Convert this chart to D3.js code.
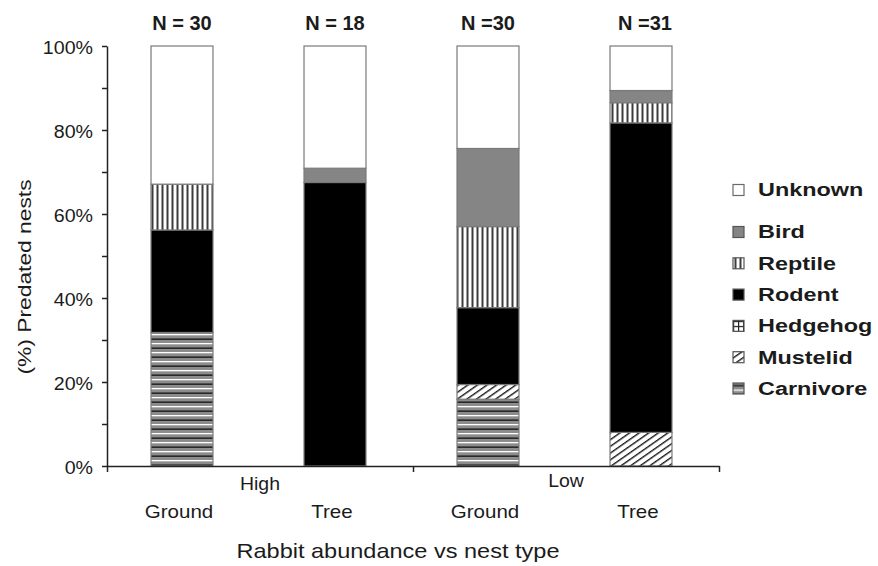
<!DOCTYPE html>
<html>
<head>
<meta charset="utf-8">
<script src="https://cdn.jsdelivr.net/npm/d3@7"></script>
<style>
  html, body { margin: 0; padding: 0; background: #fff; }
  svg { display: block; font-family: "Liberation Sans", Arial, sans-serif; }
</style>
</head>
<body>
<svg id="chart" width="878" height="566"></svg>
<script>
// Nest predation by predator type, split by rabbit abundance and nest type
const categories = ["Ground", "Tree", "Ground", "Tree"];
const groups = ["High", "Low"];
const sampleSizes = [30, 18, 30, 31];
const predators = ["Carnivore", "Mustelid", "Hedgehog", "Rodent", "Reptile", "Bird", "Unknown"];
const carnivore = [31.8, 0, 15.9, 0];
const mustelid  = [0, 0, 3.5, 8.0];
const hedgehog  = [0, 0, 0, 0];
const rodent    = [24.4, 67.5, 18.3, 73.7];
const reptile   = [10.9, 0, 19.3, 4.8];
const bird      = [0, 3.4, 18.6, 2.9];
const unknown   = [32.9, 29.1, 24.4, 10.6];
const yTicks = [0, 20, 40, 60, 80, 100];
const xTitle = "Rabbit abundance vs nest type";
const yTitle = "(%) Predated nests";

const seriesValues = {
  Carnivore: carnivore, Mustelid: mustelid, Hedgehog: hedgehog, Rodent: rodent,
  Reptile: reptile, Bird: bird, Unknown: unknown
};
const rows = categories.map((c, i) => {
  const r = { idx: i };
  predators.forEach(p => { r[p] = seriesValues[p][i]; });
  return r;
});

const svg = d3.select("#chart");
const textColor = "#1b1b1b";
const outline = "#7a7a7a";

// Fill patterns for the predator classes
const defs = svg.append("defs");
function pattern(id, w, h, transform) {
  const p = defs.append("pattern").attr("id", id)
    .attr("patternUnits", "userSpaceOnUse").attr("width", w).attr("height", h);
  if (transform) p.attr("patternTransform", transform);
  return p;
}
// horizontal stripes
let p = pattern("pCarnivore", 9, 9);
p.append("rect").attr("width", 9).attr("height", 9).attr("fill", "#8c8c8c");
p.append("rect").attr("y", 1).attr("width", 9).attr("height", 1.3).attr("fill", "#ffffff");
p.append("rect").attr("y", 5.5).attr("width", 9).attr("height", 1.3).attr("fill", "#111111");
// diagonal hatch
p = pattern("pMustelid", 5.5, 5.5, "rotate(-35)");
p.append("rect").attr("width", 5.5).attr("height", 5.5).attr("fill", "#ffffff");
p.append("rect").attr("y", 0).attr("width", 5.5).attr("height", 1.4).attr("fill", "#1a1a1a");
// grid
p = pattern("pHedgehog", 5, 5);
p.append("rect").attr("width", 5).attr("height", 5).attr("fill", "#ffffff");
p.append("rect").attr("x", 0).attr("width", 1.2).attr("height", 5).attr("fill", "#222");
p.append("rect").attr("y", 0).attr("width", 5).attr("height", 1.2).attr("fill", "#222");
// vertical stripes
p = pattern("pReptile", 5, 5);
p.append("rect").attr("width", 5).attr("height", 5).attr("fill", "#ffffff");
p.append("rect").attr("x", 1.5).attr("width", 2).attr("height", 5).attr("fill", "#3c3c3c");

const fills = {
  Carnivore: "url(#pCarnivore)",
  Mustelid: "url(#pMustelid)",
  Hedgehog: "url(#pHedgehog)",
  Rodent: "#000000",
  Reptile: "url(#pReptile)",
  Bird: "#858585",
  Unknown: "#ffffff"
};

// Scales
const plotLeft = 107, plotRight = 719, plotTop = 46, plotBottom = 466;
const x = d3.scaleBand().domain(d3.range(categories.length))
  .range([plotLeft - 1.5, plotRight - 1.5]).paddingInner(0.595).paddingOuter(0.2975);
const y = d3.scaleLinear().domain([0, 100]).range([plotBottom, plotTop]);
const g = d3.scaleLinear().domain([0, groups.length]).range([plotLeft, plotRight]);

// Stretch text horizontally to a given factor of its natural width
function stretch(sel, k) {
  sel.each(function () {
    const w = this.getComputedTextLength();
    d3.select(this).attr("textLength", w * k).attr("lengthAdjust", "spacingAndGlyphs");
  });
}

// Stacked bars
const stacked = d3.stack().keys(predators)(rows);
svg.append("g").selectAll("g").data(stacked).join("g")
  .attr("fill", d => fills[d.key])
  .selectAll("rect").data(d => d.filter(s => s[1] - s[0] > 0)).join("rect")
  .attr("x", d => x(d.data.idx))
  .attr("width", x.bandwidth())
  .attr("y", d => y(d[1]))
  .attr("height", d => y(d[0]) - y(d[1]))
  .attr("stroke", outline)
  .attr("stroke-width", 1.2);

// Y axis
const yAxis = svg.append("g").attr("transform", `translate(${plotLeft},0)`)
  .call(d3.axisLeft(y).tickValues(d3.range(0, 101, 10))
    .tickFormat(d => yTicks.includes(d) ? d + "%" : "")
    .tickSize(5).tickSizeOuter(0).tickPadding(9));
yAxis.select(".domain").attr("stroke", "#222").attr("stroke-width", 1.5);
yAxis.selectAll(".tick line").attr("stroke", "#222").attr("stroke-width", 1.5);
yAxis.selectAll(".tick text").attr("font-size", 18).attr("fill", textColor)
  .attr("font-family", "'Liberation Sans', Arial, sans-serif").attr("dy", "0.42em")
  .call(stretch, 1.09);

// X axis with group boundaries
const xAxis = svg.append("g").attr("transform", `translate(0,${plotBottom})`)
  .call(d3.axisBottom(g).tickValues(d3.range(groups.length + 1)).tickFormat("")
    .tickSize(6).tickSizeOuter(0));
xAxis.select(".domain").attr("stroke", "#222").attr("stroke-width", 1.5);
xAxis.selectAll(".tick line").attr("stroke", "#222").attr("stroke-width", 1.5);

// Category labels
svg.append("g").selectAll("text").data(categories).join("text")
  .attr("x", (d, i) => x(i) + x.bandwidth() / 2 - 3)
  .attr("y", 518)
  .attr("text-anchor", "middle")
  .attr("font-size", 19).attr("fill", textColor)
  .text(d => d)
  .call(stretch, 1.08);

// Group labels
svg.append("g").selectAll("text").data(groups).join("text")
  .attr("x", (d, i) => (g(i) + g(i + 1)) / 2)
  .attr("y", (d, i) => i === 0 ? 490 : 487)
  .attr("text-anchor", "middle")
  .attr("font-size", 18).attr("fill", textColor)
  .text(d => d)
  .call(stretch, 1.08);

// Sample sizes
svg.append("g").selectAll("text").data(sampleSizes).join("text")
  .attr("x", (d, i) => x(i) + x.bandwidth() / 2 + (i === 3 ? 4 : 0))
  .attr("y", 30)
  .attr("text-anchor", "middle")
  .attr("font-size", 20).attr("font-weight", "bold").attr("fill", textColor)
  .text((d, i) => (i === 3 || i === 2 ? "N =" : "N = ") + d);

// Axis titles
svg.append("text")
  .attr("x", (plotLeft + plotRight) / 2 - 15).attr("y", 558)
  .attr("text-anchor", "middle").attr("font-size", 21).attr("fill", textColor)
  .text(xTitle).call(stretch, 1.12);
svg.append("text")
  .attr("transform", "translate(31,277) rotate(-90)")
  .attr("text-anchor", "middle").attr("font-size", 19).attr("fill", textColor)
  .text(yTitle).call(stretch, 1.2);

// Legend (top entry first)
const legendOrder = predators.slice().reverse();
const legend = svg.append("g").selectAll("g").data(legendOrder).join("g")
  .attr("transform", (d, i) => `translate(733,${i === 0 ? 190 : 232 + (i - 1) * 31.3})`);
legend.append("rect")
  .attr("x", 0).attr("y", -5.5).attr("width", 11).attr("height", 11)
  .attr("fill", d => fills[d])
  .attr("stroke", d => d === "Unknown" ? "#6a6a6a" : "#555").attr("stroke-width", 1.2);
legend.append("text")
  .attr("x", 25).attr("y", 0).attr("dy", "0.36em")
  .attr("font-size", 18).attr("font-weight", "bold").attr("fill", textColor)
  .text(d => d)
  .call(stretch, 1.3);
</script>
</body>
</html>
